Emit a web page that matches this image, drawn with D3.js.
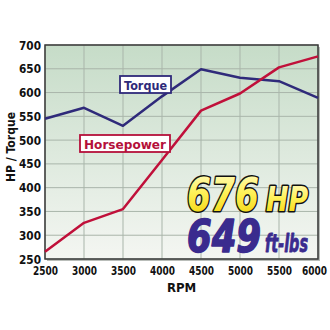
<!DOCTYPE html>
<html>
<head>
<meta charset="utf-8">
<script src="https://cdn.jsdelivr.net/npm/d3@7"></script>
<style>
  body { margin: 0; background: #fff; }
  svg { display: block; }
</style>
</head>
<body>
<svg id="chart" width="330" height="330"></svg>
<script>
const rpm = [2500, 3000, 3500, 4000, 4500, 5000, 5500, 6000];
const torque = [545, 568, 530, 592, 649, 631, 624, 589];
const horsepower = [265, 326, 355, 458, 562, 598, 653, 676];
const yTicks = [250, 300, 350, 400, 450, 500, 550, 600, 650, 700];

const svg = d3.select("#chart");
const margin = { top: 45, right: 12, bottom: 71, left: 45 };
const width = 330 - margin.left - margin.right;
const height = 330 - margin.top - margin.bottom;

const defs = svg.append("defs");
const bg = defs.append("linearGradient").attr("id", "bg")
  .attr("x1", 0).attr("y1", 0).attr("x2", 0).attr("y2", 1);
bg.append("stop").attr("offset", "0%").attr("stop-color", "#c6dcc8");
bg.append("stop").attr("offset", "100%").attr("stop-color", "#f4f6f2");

const gold = defs.append("linearGradient").attr("id", "gold")
  .attr("x1", 0).attr("y1", 0).attr("x2", 0).attr("y2", 1);
gold.append("stop").attr("offset", "0%").attr("stop-color", "#fffbd0");
gold.append("stop").attr("offset", "45%").attr("stop-color", "#fff25a");
gold.append("stop").attr("offset", "100%").attr("stop-color", "#f2d000");

const g = svg.append("g").attr("transform", `translate(${margin.left},${margin.top})`);

const x = d3.scaleLinear().domain([2500, 6000]).range([0, width]);
const y = d3.scaleLinear().domain([250, 700]).range([height, 0]);

// shadow + background
g.append("rect").attr("x", 2).attr("y", 2).attr("width", width).attr("height", height)
  .attr("fill", "#b9bdb9");
g.append("rect").attr("width", width).attr("height", height).attr("fill", "url(#bg)");

// grid
g.append("g").selectAll("line").data(rpm).enter().append("line")
  .attr("x1", d => x(d)).attr("x2", d => x(d))
  .attr("y1", 0).attr("y2", height)
  .attr("stroke", "#a9b5aa").attr("stroke-width", 1);
g.append("g").selectAll("line").data(yTicks).enter().append("line")
  .attr("x1", 0).attr("x2", width)
  .attr("y1", d => y(d)).attr("y2", d => y(d))
  .attr("stroke", "#a9b5aa").attr("stroke-width", 1);

// frame
g.append("rect").attr("width", width).attr("height", height)
  .attr("fill", "none").attr("stroke", "#3a3a3a").attr("stroke-width", 1.5);

// axes
const tickFont = "'DejaVu Sans Condensed', sans-serif";
const yAxis = g.append("g").call(d3.axisLeft(y).tickValues(yTicks).tickSize(0).tickPadding(4));
yAxis.select(".domain").remove();
yAxis.selectAll("text").style("font-family", tickFont).style("font-weight", "bold")
  .style("font-size", "12.5px").attr("fill", "#111")
  .attr("textLength", 22).attr("lengthAdjust", "spacingAndGlyphs");

const xAxis = g.append("g").attr("transform", `translate(0,${height})`)
  .call(d3.axisBottom(x).tickValues(rpm).tickFormat(d3.format("d")).tickSize(0).tickPadding(7));
xAxis.select(".domain").remove();
xAxis.selectAll("text").style("font-family", tickFont).style("font-weight", "bold")
  .style("font-size", "12.5px").attr("fill", "#111")
  .attr("textLength", 25).attr("lengthAdjust", "spacingAndGlyphs")
  .attr("dx", (d, i) => i === rpm.length - 1 ? -4 : 0);

svg.append("text")
  .attr("x", margin.left + width / 2).attr("y", 292)
  .attr("text-anchor", "middle")
  .style("font-family", tickFont).style("font-weight", "bold")
  .style("font-size", "13px").attr("fill", "#111").text("RPM");

svg.append("text")
  .attr("transform", `translate(15,147) rotate(-90)`)
  .attr("text-anchor", "middle")
  .attr("textLength", 70).attr("lengthAdjust", "spacingAndGlyphs")
  .style("font-family", tickFont).style("font-weight", "bold")
  .style("font-size", "13px").attr("fill", "#111").text("HP / Torque");

// lines
const line = d3.line().x((d, i) => x(rpm[i])).y(d => y(d));
g.append("path").datum(torque).attr("d", line)
  .attr("fill", "none").attr("stroke", "#2f2a7a").attr("stroke-width", 2.5).attr("stroke-linejoin", "round");
g.append("path").datum(horsepower).attr("d", line)
  .attr("fill", "none").attr("stroke", "#c0103a").attr("stroke-width", 2.5).attr("stroke-linejoin", "round");

// labels
function labelBox(cx, cy, w, tw, text, color) {
  const lg = svg.append("g");
  lg.append("rect").attr("x", cx - w / 2).attr("y", cy - 8.5).attr("width", w).attr("height", 17)
    .attr("fill", "#fff").attr("stroke", color).attr("stroke-width", 1.8);
  lg.append("text").attr("x", cx).attr("y", cy + 5).attr("text-anchor", "middle")
    .attr("textLength", tw).attr("lengthAdjust", "spacingAndGlyphs")
    .style("font-family", "'DejaVu Sans', sans-serif").style("font-weight", "bold")
    .style("font-size", "13px").attr("fill", color).text(text);
}
labelBox(145.5, 84.5, 51, 43, "Torque", "#2f2a7a");
labelBox(125, 143.5, 90, 82, "Horsepower", "#b5103a");

// big numbers
const bigFont = "'DejaVu Sans Condensed', 'DejaVu Sans', sans-serif";
function big(xp, yp, size, len, text, fill, stroke, sw) {
  return svg.append("text").attr("x", xp).attr("y", yp)
    .attr("textLength", len).attr("lengthAdjust", "spacingAndGlyphs")
    .style("font-family", bigFont).style("font-weight", "bold").style("font-style", "italic")
    .style("font-size", size + "px").attr("fill", fill)
    .attr("stroke", stroke).attr("stroke-width", sw).attr("paint-order", "stroke")
    .attr("stroke-linejoin", "round").text(text);
}
big(187, 211, 46, 72, "676", "url(#gold)", "#111", 3);
big(266, 211, 33, 42, "HP", "url(#gold)", "#111", 3);
big(187, 252, 45, 74, "649", "#3a2b8e", "#3a2b8e", 1.5);
big(265, 252, 24, 43, "ft-lbs", "#3a2b8e", "#3a2b8e", 0.8);
</script>
</body>
</html>
